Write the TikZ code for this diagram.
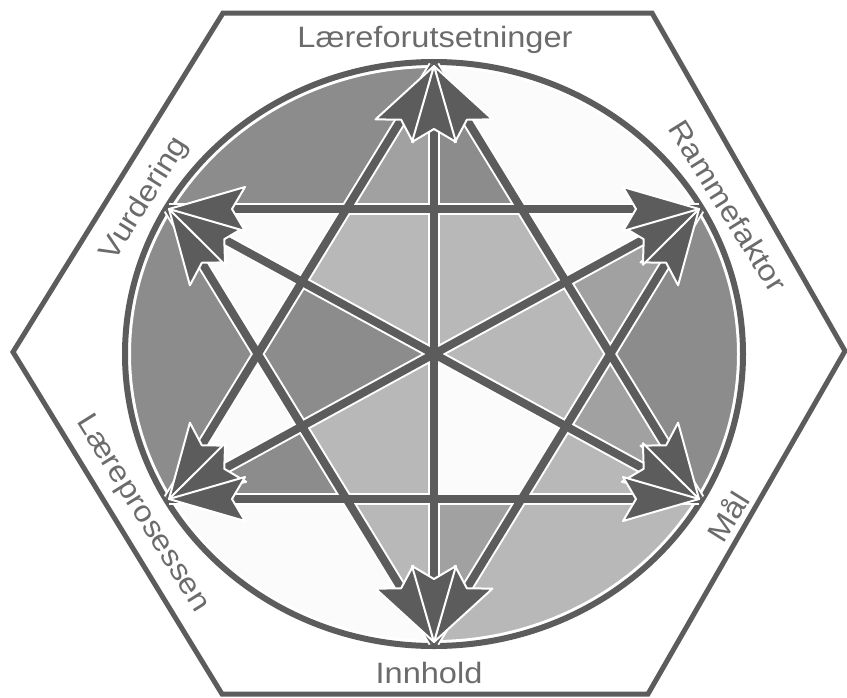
\documentclass[tikz,border=0pt]{standalone}
\usepackage{fontspec}
\newfontfamily\lab{Liberation Sans}
\usetikzlibrary{calc}
\definecolor{ln}{gray}{0.36}
\definecolor{txt}{gray}{0.42}
\definecolor{cD}{gray}{0.55}
\definecolor{cM}{gray}{0.63}
\definecolor{cL}{gray}{0.72}
\definecolor{cW}{gray}{0.985}
\newcommand\lbl[1]{\scalebox{1.05}[0.95]{#1}}
\newcommand\ahead[2]{%
  \coordinate (ab) at ($(#1)!76pt!(#2)$);
  \filldraw[ahsty] (#1) -- ($(ab)!22pt!90:(#1)$) -- ($(#1)!63pt!(#2)$) -- ($(ab)!22pt!-90:(#1)$) -- cycle;
}
\begin{document}
\begin{tikzpicture}[x=1pt,y=-1pt,
  hexline/.style={draw=ln,line width=5pt,line join=miter},
  halo/.style={draw=white,line width=12pt},
  linkline/.style={draw=ln,line width=8pt},
  ahsty/.style={fill=ln,draw=white,line width=2pt,line join=round},
  labsty/.style={text=txt,font=\lab\fontsize{31}{31}\selectfont,inner sep=0pt}]
\useasboundingbox (0,0) rectangle (847,697);
% vertices
\coordinate (C) at (434,354);
\coordinate (T) at (434,66);
\coordinate (B) at (434,642);
\coordinate (UL) at (169,209);
\coordinate (UR) at (699,209);
\coordinate (LL) at (169,499);
\coordinate (LR) at (699,499);
% inner hexagon
\coordinate (a) at (intersection of T--LL and UL--UR);
\coordinate (b) at (intersection of T--LR and UL--UR);
\coordinate (c) at (intersection of T--LR and B--UR);
\coordinate (d) at (intersection of B--UR and LL--LR);
\coordinate (e) at (intersection of B--UL and LL--LR);
\coordinate (f) at (intersection of T--LL and B--UL);
\coordinate (mV1) at (434,209);
\coordinate (mV2) at (434,499);
\coordinate (mD1u) at (intersection of UL--LR and T--LL);
\coordinate (mD1d) at (intersection of UL--LR and B--UR);
\coordinate (mD2u) at (intersection of UR--LL and T--LR);
\coordinate (mD2d) at (intersection of UR--LL and B--UL);
% hexagon
\coordinate (h1) at (223,13);
\coordinate (h2) at (652,13);
\coordinate (h3) at (845,351);
\coordinate (h4) at (648,694);
\coordinate (h5) at (222,694);
\coordinate (h6) at (13,352);
\draw[hexline] (h1) -- (h2) -- (h3) -- (h4) -- (h5) -- (h6) -- cycle;
% fills
\begin{scope}
\clip (C) ellipse [x radius=309pt, y radius=292pt];
\fill[cW] (C) ellipse [x radius=309pt, y radius=292pt];
% caps
\fill[cD] (UL) -- (a) -- (T) -- (434,0) -- (0,0) -- (0,209) -- cycle;
\fill[cW] (UR) -- (b) -- (T) -- (434,0) -- (868,0) -- (868,209) -- cycle;
\fill[cD] (UR) -- (c) -- (LR) -- (868,499) -- (868,209) -- cycle;
\fill[cL] (LR) -- (d) -- (B) -- (434,700) -- (868,700) -- (868,499) -- cycle;
\fill[cW] (LL) -- (e) -- (B) -- (434,700) -- (0,700) -- (0,499) -- cycle;
\fill[cD] (UL) -- (f) -- (LL) -- (0,499) -- (0,209) -- cycle;
% tips
\fill[cM] (T) -- (a) -- (mV1) -- cycle;
\fill[cD] (T) -- (mV1) -- (b) -- cycle;
\fill[cW] (UR) -- (b) -- (mD2u) -- cycle;
\fill[cM] (UR) -- (mD2u) -- (c) -- cycle;
\fill[cM] (LR) -- (c) -- (mD1d) -- cycle;
\fill[cL] (LR) -- (mD1d) -- (d) -- cycle;
\fill[cM] (B) -- (d) -- (mV2) -- cycle;
\fill[cL] (B) -- (mV2) -- (e) -- cycle;
\fill[cD] (LL) -- (e) -- (mD2d) -- cycle;
\fill[cW] (LL) -- (mD2d) -- (f) -- cycle;
\fill[cW] (UL) -- (f) -- (mD1u) -- cycle;
\fill[cW] (UL) -- (mD1u) -- (a) -- cycle;
% inner kites
\fill[cL] (C) -- (mV1) -- (a) -- (mD1u) -- cycle;
\fill[cL] (C) -- (mV1) -- (b) -- (mD2u) -- cycle;
\fill[cL] (C) -- (mD2u) -- (c) -- (mD1d) -- cycle;
\fill[cW] (C) -- (mD1d) -- (d) -- (mV2) -- cycle;
\fill[cL] (C) -- (mV2) -- (e) -- (mD2d) -- cycle;
\fill[cD] (C) -- (mD2d) -- (f) -- (mD1u) -- cycle;
\end{scope}
% ellipse border
\draw[white,line width=12pt] (C) ellipse [x radius=309pt, y radius=292pt];
\draw[ln,line width=6pt] (C) ellipse [x radius=309pt, y radius=292pt];
% connectors
\foreach \p/\q in {T/LL,T/LR,B/UL,B/UR,UL/LR,UR/LL,UL/UR,LL/LR,T/B}
  \draw[halo] (\p) -- (\q);
\foreach \p/\q in {T/LL,T/LR,B/UL,B/UR,UL/LR,UR/LL,UL/UR,LL/LR,T/B}
  \draw[linkline] (\p) -- (\q);
% arrowheads
\ahead{T}{LL}\ahead{LL}{T}
\ahead{T}{LR}\ahead{LR}{T}
\ahead{B}{UL}\ahead{UL}{B}
\ahead{B}{UR}\ahead{UR}{B}
\ahead{UL}{LR}\ahead{LR}{UL}
\ahead{UR}{LL}\ahead{LL}{UR}
\ahead{UL}{UR}\ahead{UR}{UL}
\ahead{LL}{LR}\ahead{LR}{LL}
\ahead{T}{B}\ahead{B}{T}
% labels
\node[labsty,anchor=base] (lf) at (435,47) {\lbl{Læreforutsetninger}};
\node[labsty,anchor=base] (inn) at (429,683) {\lbl{Innhold}};
\node[labsty,rotate=58] (vur) at (145,199) {\lbl{Vurdering}};
\node[labsty,rotate=-58] (ram) at (728,206) {\lbl{Rammefaktor}};
\node[labsty,rotate=-58] (lp) at (142,514) {\lbl{Læreprosessen}};
\node[labsty,rotate=58] (mal) at (727,516) {\lbl{Mål}};
\end{tikzpicture}
\end{document}
